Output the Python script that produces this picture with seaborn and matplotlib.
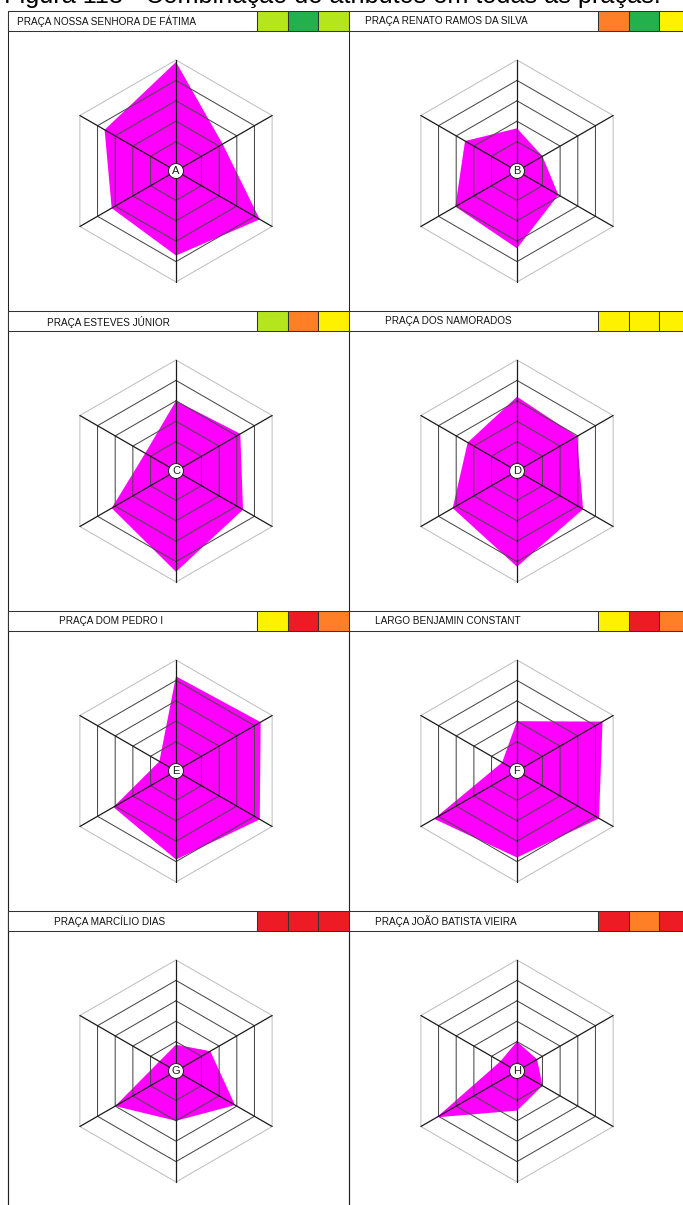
import numpy as np
import matplotlib
matplotlib.use("Agg")
import matplotlib.pyplot as plt
from matplotlib.patches import Rectangle, Circle
import seaborn as sns

# ---------------- data ----------------
title = "Figura 113 - Combinação de atributos em todas as praças."
places = ["PRAÇA NOSSA SENHORA DE FÁTIMA", "PRAÇA RENATO RAMOS DA SILVA",
          "PRAÇA ESTEVES JÚNIOR", "PRAÇA DOS NAMORADOS",
          "PRAÇA DOM PEDRO I", "LARGO BENJAMIN CONSTANT",
          "PRAÇA MARCÍLIO DIAS", "PRAÇA JOÃO BATISTA VIEIRA"]
letters = ["A", "B", "C", "D", "E", "F", "G", "H"]
# axes order: top, upper-right, lower-right, bottom, lower-left, upper-left
values_A = [4.9, 2.2, 4.3, 3.7, 3.2, 3.6]
values_B = [1.65, 1.0, 1.9, 3.35, 3.05, 2.5]
values_C = [3.0, 3.2, 3.35, 4.5, 3.2, 1.3]
values_D = [3.2, 2.95, 3.3, 4.25, 3.2, 2.35]
values_E = [4.2, 4.35, 4.3, 3.9, 3.1, 0.5]
values_F = [2.0, 4.4, 4.2, 3.8, 4.25, 0.4]
values_G = [0.85, 1.5, 2.9, 2.0, 3.0, 0.5]
values_H = [1.0, 0.7, 1.0, 1.5, 4.1, 0.5]
all_values = [values_A, values_B, values_C, values_D,
              values_E, values_F, values_G, values_H]
ratings = [["lightgreen", "green", "lightgreen"],
           ["orange", "green", "yellow"],
           ["lightgreen", "orange", "yellow"],
           ["yellow", "yellow", "yellow"],
           ["yellow", "red", "orange"],
           ["yellow", "red", "orange"],
           ["red", "red", "red"],
           ["red", "orange", "red"]]
rating_colors = {"lightgreen": "#b5e61d", "green": "#22b14c",
                 "orange": "#ff7f27", "yellow": "#fff200", "red": "#ed1c24"}
ring_levels = [1, 2, 3, 4, 5]

# ---------------- style ----------------
sns.set_style("white")
plt.rcParams['font.family'] = ['Liberation Sans', 'DejaVu Sans']

W, H = 683, 1205
fig = plt.figure(figsize=(W / 100, H / 100), dpi=100)
ax = fig.add_axes([0, 0, 1, 1])
ax.set_xlim(0, W)
ax.set_ylim(H, 0)
ax.set_aspect("equal")
ax.axis("off")

LW = 0.75
R0, STEP = 9.0, 20.4
angles = np.deg2rad([90, 30, -30, -90, -150, 150])

def to_xy(cx, cy, vals):
    r = R0 + STEP * np.asarray(vals, dtype=float)
    return cx + r * np.cos(angles), cy - r * np.sin(angles)

# title (cropped at top in the reference)
ax.text(4, 3.5, title, fontsize=18.2, va="baseline", ha="left", color="black")

panel_w = 341
text_x = [17, 365, 47, 385, 59, 375, 54, 375]
for i, (name, vals) in enumerate(zip(places, all_values)):
    col, row = i % 2, i // 2
    x0 = 8 + col * panel_w
    y0 = 11 + row * 300
    # header box
    ax.add_patch(Rectangle((x0, y0), 249, 20, fc="white", ec="#333333", lw=LW, zorder=3))
    ax.text(text_x[i], y0 + 10.5, name, fontsize=7.2, va="center", ha="left",
            color="#111111", zorder=4)
    for k, rc in enumerate(ratings[i]):
        sx = x0 + 249 + k * 30.7
        ax.add_patch(Rectangle((sx, y0), 30.7, 20, fc=rating_colors[rc],
                               ec="#333333", lw=LW, zorder=3))
    # panel left border
    ax.plot([x0, x0], [y0, H], color="#222222", lw=LW, zorder=2)

    cx, cy = x0 + 168, y0 + 160
    # data polygon
    px, py = to_xy(cx, cy, vals)
    ax.fill(px, py, color="#ff00ff", lw=0, zorder=5)
    # rings
    for lv in ring_levels:
        rx, ry = to_xy(cx, cy, [lv] * 6)
        c = "#c0c0c0" if lv == 5 else "#4a4a4a"
        ax.plot(np.append(rx, rx[0]), np.append(ry, ry[0]), color=c, lw=LW, zorder=6)
    # spokes
    ox, oy = to_xy(cx, cy, [5] * 6)
    for xx, yy in zip(ox, oy):
        ax.plot([cx, xx], [cy, yy], color="#1a1a1a", lw=0.9, zorder=7)
    # centre label
    ax.add_patch(Circle((cx, cy), 7.5, fc="white", ec="#222222", lw=LW, zorder=8))
    ax.text(cx, cy + 0.5, letters[i], fontsize=8, ha="center", va="center",
            color="#1a1a1a", zorder=9)

fig.savefig("out.png", dpi=100, facecolor="white")
